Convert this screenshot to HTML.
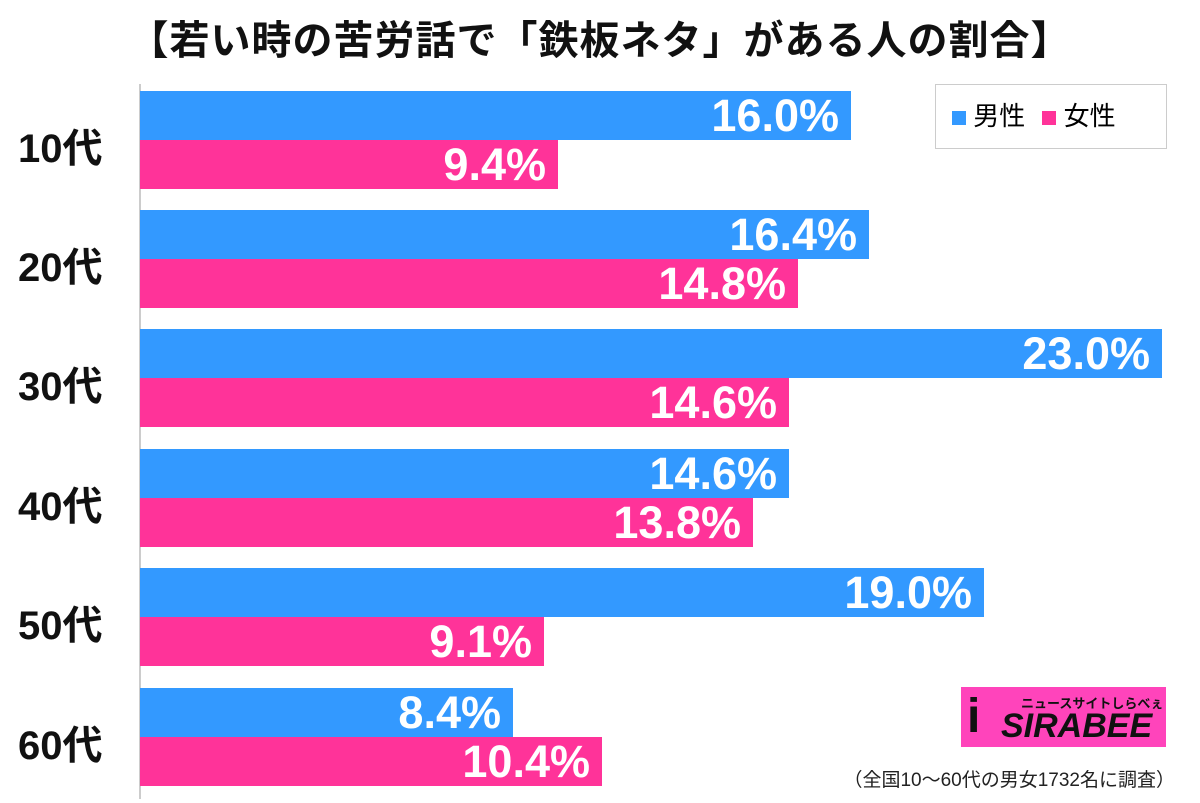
<!DOCTYPE html><html><head><meta charset="utf-8"><style>
body{margin:0;width:1200px;height:803px;background:#fff;position:relative;overflow:hidden;font-family:"Liberation Sans","Noto Sans CJK JP",sans-serif}
.a{position:absolute}
.b{position:absolute;left:140px;height:49px;color:#fff;font-weight:bold;font-size:45px;line-height:49px;text-align:right;box-sizing:border-box;padding-right:12px}
.m{background:#3399ff}.f{background:#ff3399}
.y{position:absolute;left:18px;width:100px;font-size:40px;font-weight:bold;color:#111}
</style></head><body>
<div class="a" style="left:0;top:8px;width:1200px;text-align:center;font-size:40px;font-weight:bold;color:#111;letter-spacing:1px">【若い時の苦労話で「鉄板ネタ」がある人の割合】</div>
<div class="a" style="left:139px;top:84px;width:2px;height:715px;background:#ccc"></div>
<div class="b m" style="top:91px;width:711px">16.0%</div><div class="b f" style="top:140px;width:418px">9.4%</div>
<div class="b m" style="top:210px;width:729px">16.4%</div><div class="b f" style="top:259px;width:658px">14.8%</div>
<div class="b m" style="top:329px;width:1022px">23.0%</div><div class="b f" style="top:378px;width:649px">14.6%</div>
<div class="b m" style="top:449px;width:649px">14.6%</div><div class="b f" style="top:498px;width:613px">13.8%</div>
<div class="b m" style="top:568px;width:844px">19.0%</div><div class="b f" style="top:617px;width:404px">9.1%</div>
<div class="b m" style="top:688px;width:373px">8.4%</div><div class="b f" style="top:737px;width:462px">10.4%</div>
<div class="y" style="top:116px">10代</div><div class="y" style="top:235px">20代</div><div class="y" style="top:354px">30代</div>
<div class="y" style="top:474px">40代</div><div class="y" style="top:593px">50代</div><div class="y" style="top:713px">60代</div>
<div class="a" style="left:935px;top:84px;width:232px;height:65px;border:1px solid #ccc;box-sizing:border-box;font-size:26px;line-height:63px">
<span style="display:inline-block;width:14px;height:14px;background:#3399ff;margin-left:16px"></span> 男性
<span style="display:inline-block;width:14px;height:14px;background:#ff3399;margin-left:10px"></span> 女性</div>
<div class="a" style="left:961px;top:687px;width:205px;height:60px;background:#ff44bb;overflow:hidden">
<div class="a" style="left:60px;top:6px;font-size:13px;font-weight:bold;color:#111">ニュースサイトしらべぇ</div>
<div class="a" style="left:6px;top:4px;font-size:48px;font-weight:bold;color:#111;line-height:52px">i</div>
<div class="a" style="left:40px;top:20px;font-size:34px;font-weight:bold;font-style:italic;color:#111;line-height:38px">SIRABEE</div></div>
<div class="a" style="left:780px;top:765px;width:395px;text-align:right;font-size:19px;color:#222">（全国10〜60代の男女1732名に調査）</div>
</body></html>
